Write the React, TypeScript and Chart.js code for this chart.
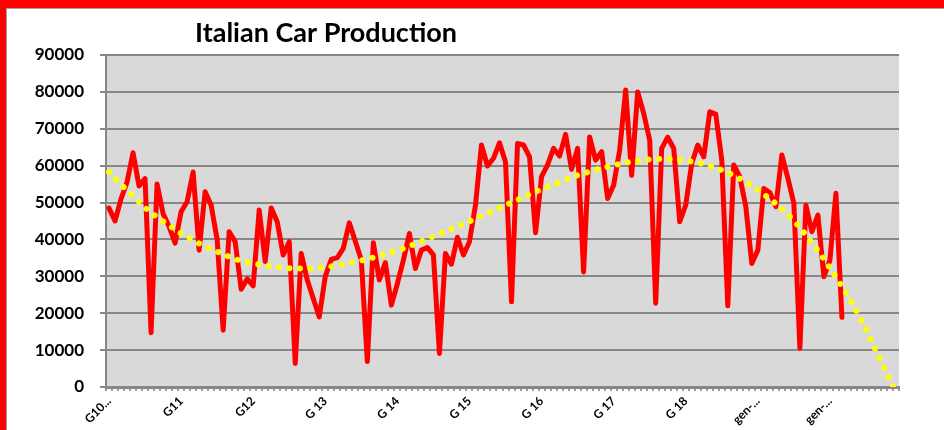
import React, { useEffect, useRef } from "react";
import { Chart, registerables } from "chart.js";

Chart.register(...registerables);

const chartTitle = "Italian Car Production";

// tick labels shown every 12 months
const yearTickLabels = ["G10...", "G11", "G12", "G 13", "G 14", "G 15", "G 16", "G 17", "G 18", "gen-...", "gen-..."];
const monthNames = ["gen", "feb", "mar", "apr", "mag", "giu", "lug", "ago", "set", "ott", "nov", "dic"];
const years = ["10", "11", "12", "13", "14", "15", "16", "17", "18", "19", "20"];

const categories: string[] = [];
years.forEach((y) => monthNames.forEach((m) => categories.push(`${m}-${y}`)));

// monthly production (Jan 2010 - Mar 2020)
const production = [
  48500, 45000, 51000, 55500, 63500, 54500, 56500, 14700, 55000, 47000, 43500, 39000,
  47500, 50200, 58300, 37100, 52900, 49300, 40000, 15400, 42100, 39400, 26500, 29300,
  27400, 48000, 34000, 48500, 44800, 35800, 39400, 6400, 36200, 29000, 24000, 19000,
  30000, 34600, 35100, 37600, 44500, 39500, 34400, 6900, 39100, 29000, 33700, 22200,
  28000, 34400, 41600, 32100, 37100, 37800, 35800, 9100, 36200, 33300, 40600, 35800,
  39400, 49300, 65600, 59900, 62000, 66200, 61000, 23100, 66000, 65600, 62400, 41800,
  57000, 60200, 64700, 62600, 68500, 59000, 64700, 31200, 67800, 61500, 63800, 51100,
  54700, 64200, 80500, 57400, 80000, 74200, 66900, 22700, 64700, 67700, 64700, 44800,
  49300, 60600, 65600, 62400, 74600, 74000, 61500, 22000, 60200, 57000, 48900, 33500,
  37100, 53800, 52700, 48900, 62900, 56600, 49800, 10500, 49300, 42100, 46600, 29900,
  34400, 52500, 18900,
];

// polynomial trend line (extends 9 months forward)
const trend = [
  58300, 56600, 54900, 53300, 51800, 50200, 48600, 47300, 46000, 44900, 43800, 42700,
  41600, 40700, 39800, 38900, 38100, 37400, 36700, 36000, 35300, 34700, 34200, 33800,
  33500, 33200, 32900, 32700, 32500, 32300, 32200, 32100, 32100, 32100, 32200, 32300,
  32500, 32700, 33000, 33300, 33600, 33900, 34300, 34700, 35100, 35500, 36000, 36500,
  37000, 37600, 38200, 38800, 39500, 40200, 40800, 41500, 42100, 42800, 43500, 44200,
  44900, 45700, 46400, 47100, 47800, 48600, 49300, 50000, 50700, 51500, 52200, 52900,
  53600, 54300, 54900, 55500, 56200, 56800, 57400, 57900, 58400, 58900, 59300, 59700,
  60100, 60500, 60800, 61100, 61300, 61500, 61700, 61800, 61800, 61800, 61800, 61600,
  61400, 61100, 60800, 60400, 59900, 59400, 58800, 58100, 57300, 56500, 55500, 54500,
  53400, 52200, 51000, 49700, 48300, 46700, 45100, 43200, 41200, 39100, 37000, 34700,
  32200, 29800, 27300, 24700, 21900, 18800, 15700, 12200, 8700, 5300, 1800, -1500,
];

const yMin = 0;
const yMax = 90000;
const yStep = 10000;

const FONT = "Lato, 'Open Sans', sans-serif";
const GRID = "#878787";

const framePlugin = {
  id: "frame",
  beforeDraw(chart: any) {
    const { ctx, chartArea, width, height } = chart;
    ctx.save();
    ctx.fillStyle = "#ffffff";
    ctx.fillRect(0, 0, width, height);
    ctx.fillStyle = "#d9d9d9";
    ctx.fillRect(chartArea.left, chartArea.top, chartArea.right - chartArea.left, chartArea.bottom - chartArea.top);
    ctx.restore();
  },
  afterDraw(chart: any) {
    const { ctx, width, height } = chart;
    ctx.save();
    ctx.fillStyle = "#ff0000";
    ctx.fillRect(0, 0, width, 8);
    ctx.fillRect(0, 0, 6, height);
    ctx.fillStyle = "#a0a0a0";
    ctx.fillRect(6, 8, width - 6, 1);
    ctx.fillRect(6, 8, 1, height - 8);
    ctx.fillStyle = "#000000";
    ctx.font = `bold 27px ${FONT}`;
    ctx.textAlign = "center";
    ctx.textBaseline = "alphabetic";
    ctx.fillText(chartTitle, 326, 42);
    ctx.restore();
  },
};

export default function App() {
  const ref = useRef<HTMLCanvasElement | null>(null);

  useEffect(() => {
    if (!ref.current) return;
    const chart = new Chart(ref.current, {
      type: "line",
      data: {
        labels: categories,
        datasets: [
          {
            label: "Trend",
            data: trend,
            borderColor: "#ffff00",
            borderWidth: 6,
            borderDash: [0.01, 10.5],
            borderCapStyle: "round",
            pointRadius: 0,
            fill: false,
            order: 1,
            clip: 0,
          },
          {
            label: "Production",
            data: production,
            borderColor: "#ff0000",
            borderWidth: 5,
            borderJoinStyle: "round",
            borderCapStyle: "round",
            pointRadius: 0,
            fill: false,
            order: 2,
          },
        ],
      },
      options: {
        responsive: false,
        animation: false,
        layout: { padding: { left: 10, right: 45, top: 55, bottom: 0 } },
        plugins: { legend: { display: false }, tooltip: { enabled: false }, title: { display: false } },
        scales: {
          x: {
            type: "category",
            offset: true,
            afterFit(scale: any) {
              scale.height = 43;
            },
            grid: {
              offset: true,
              drawOnChartArea: false,
              drawTicks: true,
              tickLength: 4,
              color: "#9a9a9a",
              lineWidth: 2,
            },
            border: { color: GRID, width: 3 },
            ticks: {
              autoSkip: false,
              maxRotation: 45,
              minRotation: 45,
              padding: 3,
              color: "#000",
              font: { family: FONT, size: 12, weight: "bold" },
              callback: (_v: any, i: number) => (i % 12 === 0 ? yearTickLabels[i / 12] : ""),
            },
          },
          y: {
            min: yMin,
            max: yMax,
            afterFit(scale: any) {
              scale.width = 96;
            },
            grid: { color: GRID, lineWidth: 2, tickLength: 6, drawTicks: true },
            border: { color: GRID, width: 2 },
            ticks: {
              stepSize: yStep,
              padding: 16,
              color: "#000",
              font: { family: FONT, size: 17, weight: "bold" },
              callback: (v: any) => String(v),
            },
          },
        },
      },
      plugins: [framePlugin],
    });
    return () => chart.destroy();
  }, []);

  return (
    <div style={{ position: "absolute", left: 0, top: 0, width: 944, height: 430 }}>
      <canvas ref={ref} width={944} height={430} style={{ width: 944, height: 430, display: "block" }} />
    </div>
  );
}
